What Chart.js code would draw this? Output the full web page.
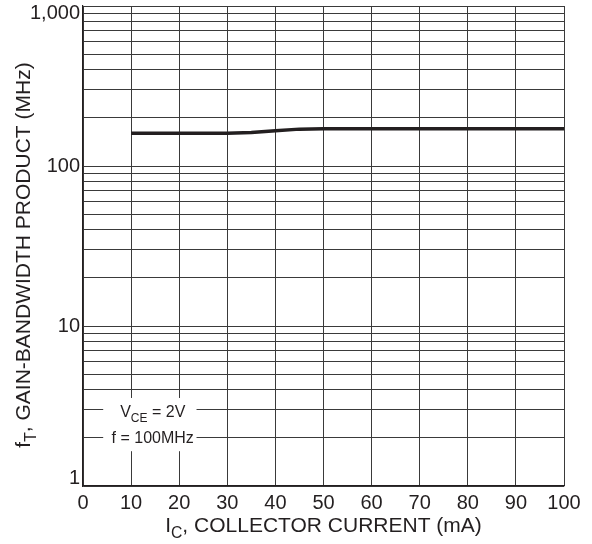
<!DOCTYPE html>
<html>
<head>
<meta charset="utf-8">
<script src="https://cdn.jsdelivr.net/npm/chart.js@4"></script>
<style>
  body { margin: 0; background: #fff; }
  #wrap { width: 592px; height: 544px; }
</style>
</head>
<body>
<div id="wrap"><canvas id="chart" width="592" height="544"></canvas></div>
<script>
// collector current (mA) and gain-bandwidth product (MHz)
let currents = [10, 20, 30, 35, 40, 45, 50, 60, 70, 80, 90, 100];
let ftValues = [160, 160, 160, 162, 166, 170, 171, 171, 171, 171, 171, 171];

let xTicks = [0, 10, 20, 30, 40, 50, 60, 70, 80, 90, 100];
let yGrid = [1, 2, 3, 4, 5, 6, 7, 8, 9,
  10, 20, 30, 40, 50, 60, 70, 80, 90,
  100, 200, 300, 400, 500, 600, 700, 800, 900, 1000];
let yLabels = { 1: '1', 10: '10', 100: '100', 1000: '1,000' };

const FONT = '"Liberation Sans", Arial, sans-serif';
const INK = '#231f20';

// text with subscript pieces: parts = [[text, isSub], ...]
function measureParts(ctx, parts, size) {
  let w = 0;
  parts.forEach(p => {
    ctx.font = (p[1] ? size * 0.75 : size) + 'px ' + FONT;
    w += ctx.measureText(p[0]).width;
  });
  return w;
}
function drawParts(ctx, parts, x, y, size) {
  parts.forEach(p => {
    ctx.font = (p[1] ? size * 0.75 : size) + 'px ' + FONT;
    ctx.fillText(p[0], x, p[1] ? y + size * 0.3 : y);
    x += ctx.measureText(p[0]).width;
  });
}

const labelsPlugin = {
  id: 'labels',
  afterDraw(chart) {
    let ctx = chart.ctx;
    let area = chart.chartArea;
    let xs = chart.scales.x;
    let ys = chart.scales.y;
    ctx.save();
    ctx.fillStyle = INK;

    // y tick labels, kept inside the plot height like the original
    ctx.font = '20px ' + FONT;
    ctx.textAlign = 'right';
    ctx.textBaseline = 'middle';
    Object.keys(yLabels).forEach(v => {
      let y = ys.getPixelForValue(Number(v));
      y = Math.min(Math.max(y, area.top + 7), area.bottom - 8);
      ctx.fillText(yLabels[v], area.left - 3, y);
    });

    ctx.textAlign = 'left';
    ctx.textBaseline = 'alphabetic';

    // x axis title
    let xt = [['I', false], ['C', true], [', COLLECTOR CURRENT (mA)', false]];
    let w = measureParts(ctx, xt, 21);
    drawParts(ctx, xt, (area.left + area.right) / 2 - w / 2, 532, 21);

    // y axis title
    let yt = [['f', false], ['T', true], [', GAIN-BANDWIDTH PRODUCT (MHz)', false]];
    w = measureParts(ctx, yt, 21);
    ctx.save();
    ctx.translate(30, 255);
    ctx.rotate(-Math.PI / 2);
    drawParts(ctx, yt, -w / 2, 0, 21);
    ctx.restore();

    // test condition note
    let left = xs.getPixelForValue(4.2);
    let right = xs.getPixelForValue(23.6);
    let top = ys.getPixelForValue(3.55);
    let bottom = ys.getPixelForValue(1.65);
    ctx.fillStyle = '#fff';
    ctx.fillRect(left, top, right - left, bottom - top);
    ctx.fillStyle = INK;
    let cx = xs.getPixelForValue(14.5);
    let l1 = [['V', false], ['CE', true], [' = 2V', false]];
    w = measureParts(ctx, l1, 16);
    drawParts(ctx, l1, cx - w / 2, 417, 16);
    let l2 = [['f = 100MHz', false]];
    w = measureParts(ctx, l2, 16);
    drawParts(ctx, l2, cx - w / 2, 443, 16);
    ctx.restore();
  }
};

let ctx = document.getElementById('chart').getContext('2d');
new Chart(ctx, {
  type: 'line',
  data: {
    datasets: [{
      data: currents.map((c, i) => ({ x: c, y: ftValues[i] })),
      borderColor: INK,
      borderWidth: 3.5,
      pointRadius: 0,
      tension: 0,
      fill: false
    }]
  },
  options: {
    responsive: false,
    animation: false,
    layout: { padding: { left: 0, top: 6, right: 28, bottom: 0 } },
    plugins: {
      legend: { display: false },
      tooltip: { enabled: false }
    },
    scales: {
      x: {
        type: 'linear',
        min: 0,
        max: 100,
        afterBuildTicks: (scale) => { scale.ticks = xTicks.map(v => ({ value: v })); },
        afterFit: (scale) => {
          scale.height = 58;
          scale.paddingLeft = 0;
          scale.paddingRight = 0;
        },
        grid: { color: '#3a3a3a', lineWidth: 1, drawTicks: false },
        border: { color: INK, width: 1.2 },
        ticks: {
          padding: 5,
          color: INK,
          font: { family: FONT, size: 20 },
          maxRotation: 0,
          autoSkip: false
        }
      },
      y: {
        type: 'logarithmic',
        min: 1,
        max: 1000,
        afterBuildTicks: (scale) => { scale.ticks = yGrid.map(v => ({ value: v })); },
        afterFit: (scale) => {
          scale.width = 83;
          scale.paddingTop = 0;
          scale.paddingBottom = 0;
        },
        grid: { color: '#3a3a3a', lineWidth: 1, drawTicks: false },
        border: { color: INK, width: 1.2 },
        ticks: { display: false }
      }
    }
  },
  plugins: [labelsPlugin]
});
</script>
</body>
</html>
